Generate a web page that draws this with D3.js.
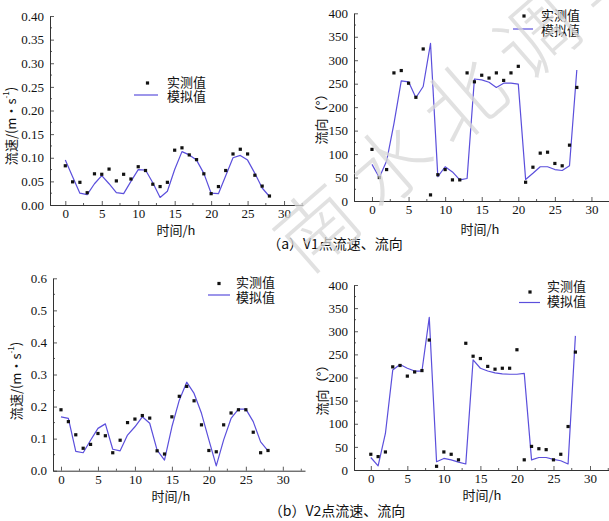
<!DOCTYPE html>
<html><head><meta charset="utf-8">
<script src="https://cdn.jsdelivr.net/npm/d3@7"></script>
<style>
html,body{margin:0;padding:0;background:#fff;}
svg{display:block;}
</style></head>
<body>
<svg id="chart" width="609" height="521"></svg>
<script>
// ---- data ----
const hours = d3.range(0, 29);
const xTicks = [0, 5, 10, 15, 20, 25, 30];

const v1SpeedMeasured = [0.083,0.049,0.048,0.026,0.066,0.065,0.076,0.051,0.065,0.055,0.081,0.073,0.044,0.039,0.048,0.116,0.121,0.106,0.096,0.066,0.024,0.039,0.073,0.108,0.118,0.108,0.063,0.040,0.019];
const v1SpeedModel    = [0.095,0.060,0.025,0.022,0.045,0.062,0.045,0.026,0.024,0.050,0.075,0.074,0.047,0.016,0.029,0.075,0.113,0.106,0.095,0.067,0.025,0.024,0.062,0.100,0.105,0.095,0.067,0.036,0.018];

const v1DirMeasured = [110,50,67,273,278,251,221,324,13,56,67,45,45,273,254,268,262,273,257,273,287,40,72,102,104,80,75,119,242];
const v1DirModel    = [78,50,85,165,256,254,220,244,336,52,73,62,45,48,260,258,253,242,251,251,249,46,59,73,73,67,65,75,279];

const v2SpeedMeasured = [0.190,0.153,0.112,0.070,0.082,0.116,0.109,0.056,0.095,0.150,0.161,0.172,0.164,0.062,0.052,0.168,0.232,0.263,0.218,0.143,0.063,0.059,0.143,0.180,0.190,0.190,0.120,0.056,0.063];
const v2SpeedModel    = [0.168,0.163,0.060,0.056,0.095,0.132,0.146,0.067,0.062,0.111,0.137,0.168,0.148,0.064,0.033,0.137,0.220,0.276,0.241,0.179,0.096,0.015,0.096,0.163,0.192,0.192,0.153,0.090,0.062];

const v2DirMeasured = [34,29,39,223,226,203,212,215,281,8,39,34,22,274,246,241,224,218,220,220,260,22,51,46,44,22,34,94,255];
const v2DirModel    = [27,9,79,216,228,220,214,214,330,18,25,22,17,13,238,220,214,210,208,207,207,209,22,27,27,23,20,13,290];

const speedTicksA = [0,0.05,0.10,0.15,0.20,0.25,0.30,0.35,0.40];
const speedTicksC = [0,0.1,0.2,0.3,0.4,0.5,0.6];
const dirTicks = [0,50,100,150,200,250,300,350,400];

const legendMeasured = "实测值";
const legendModel = "模拟值";
const xLabel = "时间/h";
const captions = ["（a）V1点流速、流向", "（b）V2点流速、流向"];

// ---- drawing ----
const svg = d3.select("#chart");
const LINE = "#5b4fdc";
const AX = "#333";
const NUM_FONT = "'Liberation Serif', 'Times New Roman', serif";
const CJK_FONT = "'Noto Sans CJK SC', sans-serif";

function panel(cfg) {
  const g = svg.append("g");
  const x = d3.scaleLinear().domain(cfg.xDomain).range(cfg.xRange);
  const y = d3.scaleLinear().domain(cfg.yDomain).range(cfg.yRange);
  const x0 = cfg.xRange[0], y0 = cfg.yRange[0];

  // axes
  const yAxis = d3.axisLeft(y).tickValues(cfg.yTicks).tickFormat(d3.format(cfg.fmt))
    .tickSizeInner(-4).tickSizeOuter(0).tickPadding(6);
  const gy = g.append("g").attr("transform", `translate(${x0},0)`).call(yAxis);
  gy.selectAll("text").attr("font-family", NUM_FONT).attr("font-size", 13).attr("fill", "#111");
  // minor y ticks
  const step = cfg.yTicks[1] - cfg.yTicks[0];
  g.append("g").selectAll("line").data(cfg.yTicks.slice(0, -1)).join("line")
    .attr("x1", x0).attr("x2", x0 + 2)
    .attr("y1", d => y(d + step / 2)).attr("y2", d => y(d + step / 2))
    .attr("stroke", AX).attr("stroke-width", 0.8);

  const xAxis = d3.axisBottom(x).tickValues(xTicks).tickFormat(d3.format("d"))
    .tickSizeInner(-4).tickSizeOuter(0).tickPadding(4);
  const gx = g.append("g").attr("transform", `translate(0,${y0})`).call(xAxis);
  gx.selectAll("text").attr("font-family", NUM_FONT).attr("font-size", 13).attr("fill", "#111");
  g.append("g").selectAll("line").data(xTicks).join("line")
    .attr("x1", d => x(d + 2.5)).attr("x2", d => x(d + 2.5))
    .attr("y1", y0).attr("y2", y0 - 2)
    .attr("stroke", AX).attr("stroke-width", 0.8);
  [gx, gy].forEach(a => {
    a.select(".domain").attr("stroke", AX).attr("stroke-width", 1);
    a.selectAll(".tick line").attr("stroke", AX).attr("stroke-width", 0.8);
  });

  // model line
  const line = d3.line().x((d, i) => x(hours[i])).y(d => y(d));
  g.append("path").datum(cfg.model).attr("d", line)
    .attr("fill", "none").attr("stroke", LINE).attr("stroke-width", 1.2)
    .attr("stroke-linejoin", "round");

  // measured points
  g.append("g").selectAll("rect").data(cfg.measured).join("rect")
    .attr("x", (d, i) => x(hours[i]) - 1.6).attr("y", d => y(d) - 1.6)
    .attr("width", 3.2).attr("height", 3.2).attr("fill", "#111");

  // axis labels
  g.append("text").attr("x", cfg.xLab[0]).attr("y", cfg.xLab[1])
    .attr("text-anchor", "middle").attr("dominant-baseline", "central")
    .attr("font-family", CJK_FONT).attr("font-size", 13).attr("fill", "#111")
    .text(xLabel);
  const yl = g.append("text")
    .attr("transform", `translate(${cfg.yLab[0]},${cfg.yLab[1]}) rotate(-90)`)
    .attr("text-anchor", "middle").attr("dominant-baseline", "central")
    .attr("font-family", CJK_FONT).attr("font-size", 13).attr("fill", "#111");
  if (cfg.speed) {
    yl.append("tspan").text("流速/(m·s");
    yl.append("tspan").attr("font-size", 8).attr("dy", -5).text("-1");
    yl.append("tspan").attr("dy", 5).text(")");
  } else {
    yl.text("流向（°）");
  }

  // legend
  const L = cfg.legend;
  g.append("rect").attr("x", L.dot[0] - 1.6).attr("y", L.dot[1] - 1.6)
    .attr("width", 3.2).attr("height", 3.2).attr("fill", "#111");
  g.append("line").attr("x1", L.line[0]).attr("x2", L.line[1])
    .attr("y1", L.line[2]).attr("y2", L.line[2])
    .attr("stroke", LINE).attr("stroke-width", 1.2);
  g.append("text").attr("x", L.text[0]).attr("y", L.text[1])
    .attr("dominant-baseline", "central").attr("font-family", CJK_FONT)
    .attr("font-size", 13).attr("fill", "#111").text(legendMeasured);
  g.append("text").attr("x", L.text[0]).attr("y", L.text[2])
    .attr("dominant-baseline", "central").attr("font-family", CJK_FONT)
    .attr("font-size", 13).attr("fill", "#111").text(legendModel);
}

panel({
  xDomain: [-2.1, 32.6], xRange: [50, 303],
  yDomain: [0, 0.40], yRange: [205, 16],
  yTicks: speedTicksA, fmt: ".2f",
  measured: v1SpeedMeasured, model: v1SpeedModel, speed: true,
  xLab: [176, 229], yLab: [10, 126],
  legend: { dot: [147.5, 83], line: [134, 158, 95], text: [167, 81, 95] }
});
panel({
  xDomain: [-2.46, 32.4], xRange: [354, 609],
  yDomain: [0, 400], yRange: [201, 13.3],
  yTicks: dirTicks, fmt: "d",
  measured: v1DirMeasured, model: v1DirModel, speed: false,
  xLab: [480, 228], yLab: [320, 116],
  legend: { dot: [524, 16], line: [513, 533, 29], text: [541, 14, 29] }
});
panel({
  xDomain: [-1.08, 33], xRange: [53, 305],
  yDomain: [0, 0.6], yRange: [470.7, 278.3],
  yTicks: speedTicksC, fmt: ".1f",
  measured: v2SpeedMeasured, model: v2SpeedModel, speed: true,
  xLab: [171, 495], yLab: [15, 381],
  legend: { dot: [219, 283.5], line: [208, 230, 295], text: [236, 281, 296] }
});
panel({
  xDomain: [-2.3, 32.6], xRange: [354, 609],
  yDomain: [0, 400], yRange: [470, 285],
  yTicks: dirTicks, fmt: "d",
  measured: v2DirMeasured, model: v2DirModel, speed: false,
  xLab: [482, 494], yLab: [321, 387],
  legend: { dot: [530, 292], line: [519, 540, 302.5], text: [547, 285, 300] }
});

// captions
svg.append("text").attr("x", 335).attr("y", 243).attr("text-anchor", "middle")
  .attr("dominant-baseline", "central").attr("font-family", CJK_FONT)
  .attr("font-size", 14).attr("fill", "#111").text(captions[0]);
svg.append("text").attr("x", 337).attr("y", 510).attr("text-anchor", "middle")
  .attr("dominant-baseline", "central").attr("font-family", CJK_FONT)
  .attr("font-size", 14).attr("fill", "#111").text(captions[1]);

// watermark
svg.append("text")
  .attr("transform", "translate(306,276) rotate(-41)")
  .attr("font-family", CJK_FONT).attr("font-size", 80).attr("font-weight", 300)
  .attr("letter-spacing", 17)
  .attr("fill", "#d8d8d8").attr("opacity", 0.75)
  .text("南水北调与水利科技");
</script>
</body></html>
